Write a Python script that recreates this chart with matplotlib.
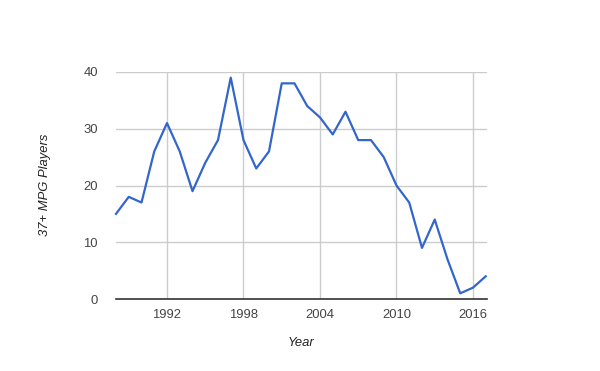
import matplotlib
matplotlib.use("Agg")
import matplotlib.pyplot as plt

years = list(range(1988, 2018))
players = [15, 18, 17, 26, 31, 26, 19, 24, 28, 39, 28, 23, 26, 38, 38, 34, 32, 29, 33, 28,
           28, 25, 20, 17, 9, 14, 7, 1, 2, 4]
xticks = [1992, 1998, 2004, 2010, 2016]
yticks = [0, 10, 20, 30, 40]

plt.rcParams['font.family'] = ['Liberation Sans', 'DejaVu Sans']

fig = plt.figure(figsize=(6.0, 3.71), dpi=100)
W, H = 600, 371
ax = fig.add_axes([116 / W, 72 / H, (487 - 116) / W, (299 - 72) / H])

ax.plot(years, players, color='#3366cc', linewidth=1.6, solid_joinstyle='round', zorder=3,
        clip_on=False)

ax.set_xlim(1988, 2017.1)
ax.set_ylim(0, 40)
ax.set_xticks(xticks)
ax.set_yticks(yticks)
ax.set_xticklabels([str(t) for t in xticks])
ax.set_yticklabels([str(t) for t in yticks])

ax.grid(True, color='#cccccc', linewidth=1)
ax.set_axisbelow(True)
for s in ['top', 'right', 'left']:
    ax.spines[s].set_visible(False)
ax.spines['bottom'].set_color('#333333')
ax.spines['bottom'].set_linewidth(1.2)
ax.spines['bottom'].set_zorder(4)

ax.tick_params(axis='both', length=0, labelsize=9.4, labelcolor='#444444')
ax.tick_params(axis='y', pad=13)
ax.tick_params(axis='x', pad=7)

fig.text(301.5 / W, 1 - 343 / H, 'Year', ha='center', va='center', fontsize=9.4,
         style='italic', color='#222222')
fig.text(45 / W, 1 - 185 / H, '37+ MPG Players', ha='center', va='center', fontsize=9.4,
         style='italic', color='#222222', rotation=90)

fig.savefig('out.png', dpi=100, facecolor='white')
